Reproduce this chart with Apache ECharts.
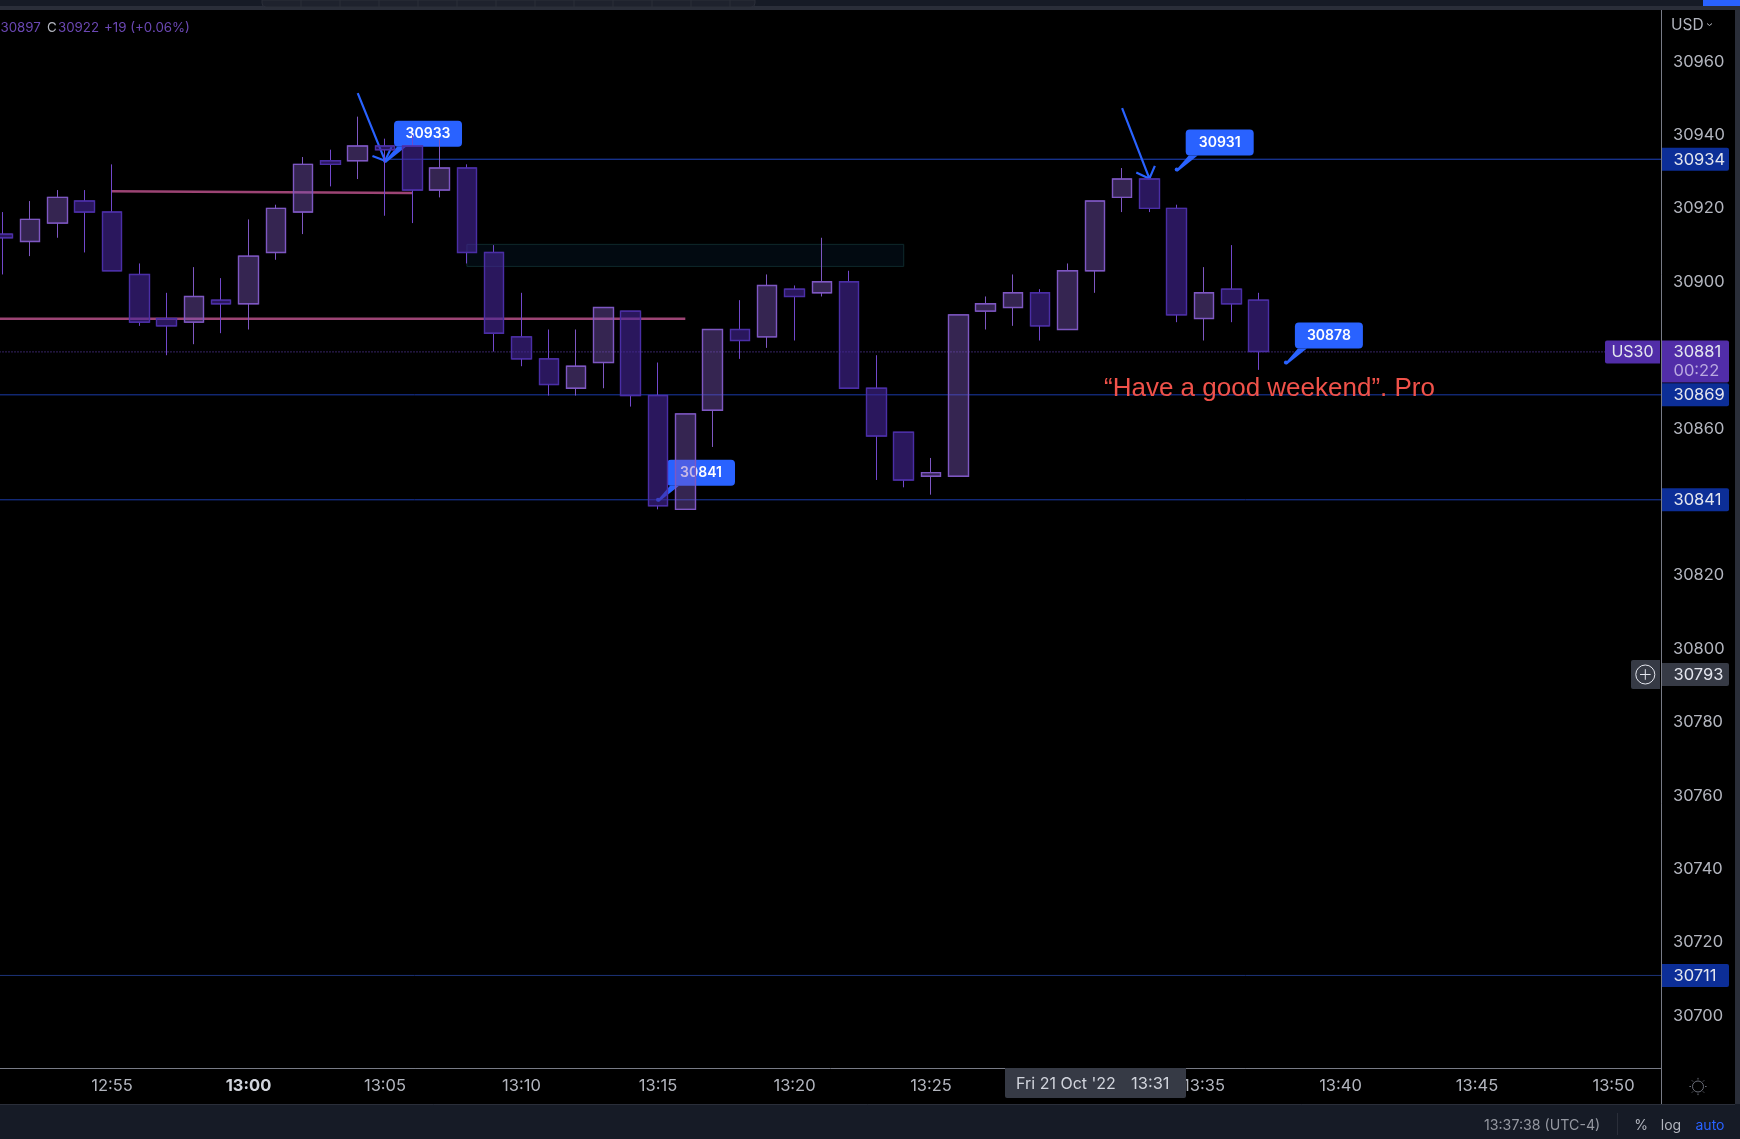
<!DOCTYPE html>
<html>
<head>
<meta charset="utf-8">
<style>html,body{margin:0;padding:0;background:#000;overflow:hidden}#c{width:1740px;height:1139px}</style>
<script src="https://cdn.jsdelivr.net/npm/echarts@6/dist/echarts.min.js"></script>
</head>
<body>
<div id="c"></div>
<script>
// ---- data ----
const times = ['12:51','12:52','12:53','12:54','12:55','12:56','12:57','12:58','12:59','13:00','13:01','13:02','13:03','13:04','13:05','13:06','13:07','13:08','13:09','13:10','13:11','13:12','13:13','13:14','13:15','13:16','13:17','13:18','13:19','13:20','13:21','13:22','13:23','13:24','13:25','13:26','13:27','13:28','13:29','13:30','13:31','13:32','13:33','13:34','13:35','13:36','13:37'];
const opens  = [30913,30911,30916,30922,30919,30902,30890,30889,30895,30894,30908,30919,30933,30933,30937,30937,30925,30931,30908,30885,30879,30871,30878,30892,30869,30838,30865,30887,30885,30898,30897,30900,30871,30859,30847,30847,30892,30893,30897,30887,30903,30923,30928,30920,30890,30898,30895];
const closes = [30912,30917,30923,30919,30903,30889,30888,30896,30894,30907,30920,30932,30932,30937,30936,30925,30931,30908,30886,30879,30872,30877,30893,30869,30839,30864,30887,30884,30899,30896,30900,30871,30858,30846,30848,30891,30894,30897,30888,30903,30922,30928,30920,30891,30897,30894,30881];
const lows   = [30902,30907,30912,30908,30903,30888,30880,30883,30886,30887,30906,30913,30926,30928,30918,30916,30923,30905,30881,30877,30869,30869,30871,30866,30838,30838,30855,30879,30882,30884,30896,30871,30846,30844,30842,30847,30887,30888,30884,30887,30897,30919,30919,30889,30884,30889,30876];
const highs  = [30919,30922,30925,30925,30932,30905,30897,30904,30901,30917,30921,30934,30936,30945,30939,30940,30939,30932,30910,30897,30887,30887,30893,30892,30878,30864,30887,30895,30902,30899,30912,30903,30880,30859,30852,30891,30896,30902,30898,30905,30922,30931,30928,30921,30904,30910,30897];
const priceTicks = [30960,30940,30920,30900,30860,30820,30800,30780,30760,30740,30720,30700];
const timeTicks = ['12:55','13:00','13:05','13:10','13:15','13:20','13:25','13:35','13:40','13:45','13:50'];
const boldTime = '13:00';
// horizontal levels: [price, from-time]
const levelPrices = [30933.4,30869.2,30840.6,30711];
const levelStarts = ['13:05','12:50','12:50','12:50'];
const levelColors = ['#1f44c0','#1a3aa8','#1a3aa8','#1c3278'];
const lastPrice = 30880.9;
// pink trend lines
const pinkA = [['12:55',30924.7],['13:06',30924.2]];
const pinkB = [['12:50',30889.9],['13:16',30889.9]];
// zone
const zoneTimes = ['13:08','13:24'];
const zonePrices = [30910.2,30904.2];
// callouts: text, tip time, tip price
const calloutTexts  = ['30933','30931','30878','30841'];
const calloutTimes  = ['13:05','13:34','13:38','13:15'];
const calloutPrices = [30933,30930.6,30878,30840.6];
// arrows (minutes-of-day, price): start, tip, wing, wing
const arrowOne = [[784,30951.4],[785,30933],[784.54,30934.3],[785,30933],[785.24,30936.7]];
const arrowTwo = [[812,30947.3],[813,30928.1],[812.52,30929.8],[813,30928.1],[813.2,30931.6]];
// price tags on the scale
const tagPrices = [30933.4,30869.2,30840.6,30711,30793];
const tagTexts  = ['30934','30869','30841','30711','30793'];
const tagColors = ['#0c2e97','#0c2e97','#0c2e97','#0c2e97','#363a45'];

// ---- helpers / layout ----
const FONT = 'Inter, "Noto Sans", sans-serif';
const mins = s => { const [h,m] = s.split(':').map(Number); return h*60+m; };
const fmt = v => { const r=Math.round(v); return String(Math.floor(r/60)).padStart(2,'0')+':'+String(r%60).padStart(2,'0'); };
const xs = times.map(mins);
const wicks  = xs.map((x,i)=>[x,opens[i],closes[i],lows[i],highs[i]]);
const bodies = xs.map((x,i)=>[x,opens[i],closes[i],Math.min(opens[i],closes[i]),Math.max(opens[i],closes[i])]);
const lineSeries = (data,color,width,z,type) => ({type:'line',data,z,silent:true,showSymbol:false,symbol:'none',animation:false,
  lineStyle:{color,width,type:type||'solid'}});

const chart = echarts.init(document.getElementById('c'),null,{renderer:'canvas',width:1740,height:1139});
const xMax = 831.74, xMin = 770.897, tagLeftX = 829.7;

const calloutData = calloutTexts.map((t,i)=>[mins(calloutTimes[i]),calloutPrices[i],t]);
const tagData = tagPrices.map((p,i)=>[xMax,p,tagTexts[i],tagColors[i]]);

const option = {
  backgroundColor:'#000',
  animation:false,
  grid:{left:0,top:10,width:1661,height:1058,containLabel:false},
  xAxis:{type:'value',min:xMin,max:xMax,
    splitLine:{show:false},axisTick:{show:false},
    axisLine:{show:true,lineStyle:{color:'#787b86',width:1}},
    axisLabel:{customValues:timeTicks.map(mins),margin:10,hideOverlap:false,
      formatter:v=>{const s=fmt(v);return s===boldTime?'{b|'+s+'}':'{n|'+s+'}';},
      rich:{n:{color:'#b2b5be',fontSize:16.5,fontFamily:FONT},b:{color:'#d1d4dc',fontSize:16.5,fontWeight:700,fontFamily:FONT}}}},
  yAxis:{type:'value',position:'right',min:30685.78,max:30974.06,scale:true,
    splitLine:{show:false},axisTick:{show:false},
    axisLine:{show:true,onZero:false,lineStyle:{color:'#787b86',width:1}},
    axisLabel:{customValues:priceTicks,margin:12,color:'#b2b5be',fontSize:16.5,fontFamily:FONT,padding:[1,0,0,0],formatter:v=>String(v)}},
  series:[
    // levels
    ...levelPrices.map((p,i)=>lineSeries([[mins(levelStarts[i]),p],[xMax,p]],levelColors[i],1,1)),
    lineSeries([[770,lastPrice],[tagLeftX,lastPrice]],'#6a45c8',1,1,[1,2]),
    {type:'custom',z:1,silent:true,clip:false,data:[[mins(zoneTimes[0]),zonePrices[0],mins(zoneTimes[1]),zonePrices[1]]],
      renderItem:(p,api)=>{const a=api.coord([api.value(0),api.value(1)]),b=api.coord([api.value(2),api.value(3)]);
        return {type:'rect',shape:{x:a[0],y:a[1],width:b[0]-a[0],height:b[1]-a[1]},style:{fill:'#020a11',stroke:'#0e2a2c',lineWidth:1}};}},
    lineSeries(pinkA.map(d=>[mins(d[0]),d[1]]),'#9c4474',2.5,2),
    lineSeries(pinkB.map(d=>[mins(d[0]),d[1]]),'#9c4474',2.5,2),
    // callouts under the candles
    {type:'custom',z:3,silent:true,clip:false,data:calloutData,encode:{x:0,y:1},
      renderItem:(p,api)=>{const c=api.coord([api.value(0),api.value(1)]),x=c[0],y=c[1];
        const t=calloutData[p.dataIndex][2],blue='#2962ff';
        return {type:'group',children:[
          {type:'polygon',shape:{points:[[x-1,y+1],[x+1,y+2],[x+21,y-14],[x+12,y-14]]},style:{fill:blue}},
          {type:'circle',shape:{cx:x,cy:y,r:2},style:{fill:blue}},
          {type:'rect',shape:{x:x+9,y:y-40,width:68,height:26,r:4},style:{fill:blue}},
          {type:'text',style:{x:x+43,y:y-27,text:t,fill:'#fff',font:'600 14px '+FONT,textAlign:'center',textVerticalAlign:'middle'}}
        ]};}},
    lineSeries(arrowOne,'#2962ff',2.2,3),
    lineSeries(arrowTwo,'#2962ff',2.2,3),
    // candles: wicks then bodies
    {type:'candlestick',z:4,silent:true,clip:false,barWidth:20,data:wicks,encode:{x:0,y:[1,2,3,4]},
      itemStyle:{color:'rgba(0,0,0,0)',color0:'rgba(0,0,0,0)',borderColor:'#7e57c2',borderColor0:'#7248cc',borderWidth:1}},
    {type:'candlestick',z:5,silent:true,clip:false,barWidth:20,data:bodies,encode:{x:0,y:[1,2,3,4]},
      itemStyle:{color:'rgba(126,87,194,0.42)',color0:'rgba(70,38,155,0.6)',borderColor:'#7e57c2',borderColor0:'#4a2ea6',borderWidth:1.4}},
    // price tags
    {type:'custom',z:10,silent:true,clip:false,data:tagData,encode:{x:0,y:1},
      renderItem:(p,api)=>{const c=api.coord([api.value(0),api.value(1)]);const d=tagData[p.dataIndex];
        return {type:'group',children:[
          {type:'rect',shape:{x:1661.5,y:c[1]-11.5,width:67.5,height:23,r:[0,2,2,0]},style:{fill:d[3]}},
          {type:'text',style:{x:1673.5,y:c[1]+0.5,text:d[2],fill:'#e4e6ee',font:'16.5px '+FONT,textAlign:'left',textVerticalAlign:'middle'}}
        ]};}},
    {type:'custom',z:10,silent:true,clip:false,data:[[xMax,lastPrice,'30881','00:22','US30']],encode:{x:0,y:1},
      renderItem:(p,api)=>{const c=api.coord([api.value(0),api.value(1)]);const y=c[1];
        return {type:'group',children:[
          {type:'rect',shape:{x:1661.5,y:y-11.5,width:67.5,height:42,r:[0,2,2,0]},style:{fill:'#512da8'}},
          {type:'rect',shape:{x:1605,y:y-11.5,width:55,height:23,r:[2,0,0,2]},style:{fill:'#512da8'}},
          {type:'text',style:{x:1632.5,y:y+0.5,text:'US30',fill:'#e4e6ee',font:'16px '+FONT,textAlign:'center',textVerticalAlign:'middle'}},
          {type:'text',style:{x:1673.5,y:y+0.5,text:'30881',fill:'#e4e6ee',font:'16.5px '+FONT,textAlign:'left',textVerticalAlign:'middle'}},
          {type:'text',style:{x:1673.5,y:y+19,text:'00:22',fill:'#b9a9e0',font:'16.5px '+FONT,textAlign:'left',textVerticalAlign:'middle'}}
        ]};}}
  ],
  graphic:[
    // chrome
    {type:'rect',z:20,shape:{x:0,y:0,width:1740,height:6},style:{fill:'#161b26'}},
    {type:'rect',z:20,shape:{x:0,y:6,width:1740,height:4},style:{fill:'#2a2e39'}},
    {type:'rect',z:21,shape:{x:262,y:0,width:493,height:7,r:[0,0,4,4]},style:{fill:'#1e222d',stroke:'#2a2e39',lineWidth:1}},
    {type:'rect',z:21,shape:{x:1703,y:0,width:37,height:6},style:{fill:'#2962ff'}},
    {type:'rect',z:20,shape:{x:1735,y:0,width:5,height:1139},style:{fill:'#2a2e39'}},
    {type:'rect',z:20,shape:{x:0,y:1104,width:1740,height:35},style:{fill:'#161b26'}},
    {type:'line',z:21,shape:{x1:0,y1:1104.5,x2:1735,y2:1104.5},style:{stroke:'#2a2e39',lineWidth:1}},
    {type:'line',z:21,shape:{x1:1661.5,y1:1068,x2:1661.5,y2:1104},style:{stroke:'#787b86',lineWidth:1}},
    {type:'line',z:21,shape:{x1:1661.5,y1:10,x2:1661.5,y2:1068},style:{stroke:'#787b86',lineWidth:1}},
    // header
    {type:'text',z:21,style:{x:0.5,y:28,text:'30897',fill:'#6b48b4',font:'13.3px '+FONT,textVerticalAlign:'middle'}},
    {type:'text',z:21,style:{x:47,y:28,text:'C',fill:'#b2b5be',font:'13.3px '+FONT,textVerticalAlign:'middle'}},
    {type:'text',z:21,style:{x:58,y:28,text:'30922',fill:'#6b48b4',font:'13.3px '+FONT,textVerticalAlign:'middle'}},
    {type:'text',z:21,style:{x:104,y:28,text:'+19 (+0.06%)',fill:'#6b48b4',font:'13.3px '+FONT,textVerticalAlign:'middle'}},
    // USD
    {type:'text',z:21,style:{x:1671,y:25.5,text:'USD',fill:'#b2b5be',font:'15.5px '+FONT,textVerticalAlign:'middle'}},
    {type:'polyline',z:21,shape:{points:[[1707,23.5],[1709.5,25.5],[1712,23.5]]},style:{stroke:'#b2b5be',lineWidth:1,fill:'none'}},
    // crosshair plus
    {type:'rect',z:21,shape:{x:1631,y:660,width:29,height:29,r:[2,0,0,2]},style:{fill:'#363a45'}},
    {type:'circle',z:22,shape:{cx:1645.3,cy:674.5,r:9.5},style:{fill:'none',stroke:'#e4e6ee',lineWidth:1}},
    {type:'line',z:22,shape:{x1:1640,y1:674.5,x2:1650.6,y2:674.5},style:{stroke:'#e4e6ee',lineWidth:1}},
    {type:'line',z:22,shape:{x1:1645.3,y1:669.2,x2:1645.3,y2:679.8},style:{stroke:'#e4e6ee',lineWidth:1}},
    // crosshair time tag
    {type:'rect',z:21,shape:{x:1005,y:1068,width:181,height:30,r:[0,0,2,2]},style:{fill:'#363a45'}},
    {type:'text',z:22,style:{x:1016,y:1084,text:"Fri 21 Oct '22",fill:'#d1d4dc',font:'16px '+FONT,textVerticalAlign:'middle'}},
    {type:'text',z:22,style:{x:1131,y:1084,text:'13:31',fill:'#d1d4dc',font:'16.5px '+FONT,textVerticalAlign:'middle'}},
    // sun
    {type:'circle',z:21,shape:{cx:1698,cy:1086.5,r:5.5},style:{fill:'none',stroke:'#6a6d78',lineWidth:1}},
    ...[0,45,90,135,180,225,270,315].map(a=>{const r=a*Math.PI/180;return {type:'line',z:21,
      shape:{x1:1698+7*Math.cos(r),y1:1086.5+7*Math.sin(r),x2:1698+8.6*Math.cos(r),y2:1086.5+8.6*Math.sin(r)},style:{stroke:'#6a6d78',lineWidth:1}};}),
    // footer
    {type:'text',z:21,style:{x:1484,y:1125.5,text:'13:37:38 (UTC-4)',fill:'#9598a1',font:'14.2px '+FONT,textVerticalAlign:'middle'}},
    {type:'line',z:21,shape:{x1:1617.5,y1:1113,x2:1617.5,y2:1135},style:{stroke:'#2a2e39',lineWidth:1}},
    {type:'text',z:21,style:{x:1641,y:1125.5,text:'%',fill:'#b2b5be',font:'14px '+FONT,textAlign:'center',textVerticalAlign:'middle'}},
    {type:'text',z:21,style:{x:1671,y:1125.5,text:'log',fill:'#b2b5be',font:'14px '+FONT,textAlign:'center',textVerticalAlign:'middle'}},
    {type:'text',z:21,style:{x:1710,y:1125.5,text:'auto',fill:'#2962ff',font:'14px '+FONT,textAlign:'center',textVerticalAlign:'middle'}},
    // annotation
    {type:'text',z:21,style:{x:1104,y:389,text:'“Have a good weekend”. Pro',fill:'#f0524a',font:'26px "Liberation Sans", Arial, sans-serif',textVerticalAlign:'middle'}}
  ]
};
for (let i=1;i<13;i++) option.graphic.push({type:'line',z:22,shape:{x1:262+i*39,y1:0,x2:262+i*39,y2:7},style:{stroke:'#2a2e39',lineWidth:1}});
chart.setOption(option);
</script>
</body>
</html>
